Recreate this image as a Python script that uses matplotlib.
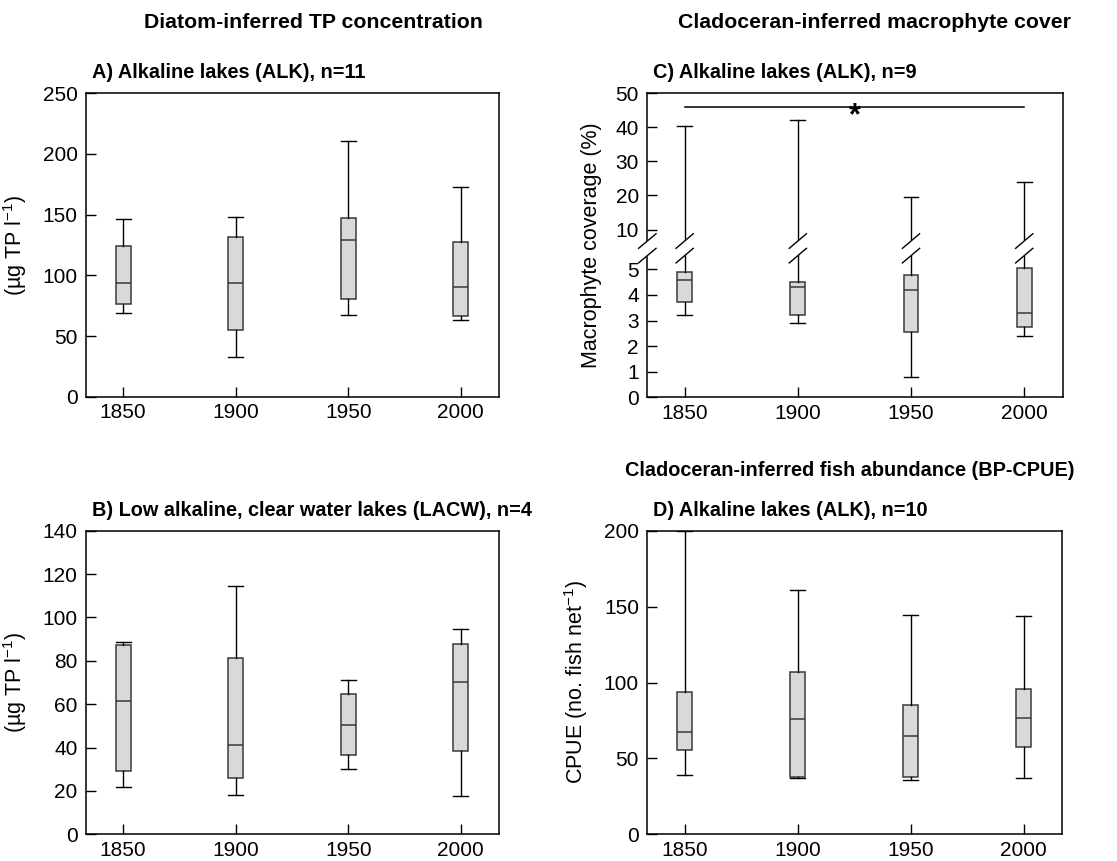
import matplotlib.pyplot as plt
import numpy as np

plt.rcParams['font.family'] = ['Liberation Sans', 'DejaVu Sans']

years = [1850, 1900, 1950, 2000]

# box stats per panel: lower whisker, Q1, median, Q3, upper whisker
a_low = [68.7, 32.5, 67.3, 63.0]
a_q1 = [76.1, 54.7, 80.3, 66.8]
a_med = [93.9, 93.4, 129.1, 90.4]
a_q3 = [123.9, 131.3, 147.2, 127.5]
a_high = [146.4, 147.8, 210.9, 173.0]

b_low = [21.9, 18.3, 30.0, 17.7]
b_q1 = [29.2, 26.0, 36.4, 38.4]
b_med = [61.3, 41.0, 50.3, 70.1]
b_q3 = [87.3, 81.3, 64.6, 87.9]
b_high = [88.5, 114.6, 71.3, 94.8]

c_low = [3.21, 2.89, 0.81, 2.41]
c_q1 = [3.72, 3.22, 2.55, 2.76]
c_med = [4.59, 4.31, 4.20, 3.30]
c_q3 = [4.91, 4.52, 4.78, 5.04]
c_high = [40.5, 42.3, 19.7, 24.1]

d_low = [38.9, 37.1, 36.0, 37.3]
d_q1 = [55.3, 37.9, 37.7, 57.7]
d_med = [67.6, 75.8, 64.6, 76.8]
d_q3 = [93.5, 106.7, 85.4, 95.9]
d_high = [200.0, 160.9, 144.7, 143.8]

W, H = 1117, 861
fig = plt.figure(figsize=(W / 100, H / 100), dpi=100)


def px_axes(l, r, t, b):
    return fig.add_axes([l / W, 1 - b / H, (r - l) / W, (b - t) / H])


def draw_boxes(ax, low, q1, med, q3, high):
    stats = []
    for i in range(len(years)):
        stats.append(dict(whislo=low[i], q1=q1[i], med=med[i], q3=q3[i],
                          whishi=high[i], fliers=[]))
    ax.bxp(stats, positions=years, widths=6.6, patch_artist=True,
           showfliers=False, manage_ticks=False,
           boxprops=dict(facecolor='#d9d9d9', edgecolor='#3a3a3a', linewidth=1.1),
           medianprops=dict(color='#3a3a3a', linewidth=1.1),
           whiskerprops=dict(color='black', linewidth=1.0),
           capprops=dict(color='black', linewidth=1.0),
           capwidths=6.6)


def style(ax, yticks, ylabel):
    ax.set_xlim(1833.5, 2017)
    ax.set_xticks(years)
    ax.set_yticks(yticks)
    ax.tick_params(direction='in', length=7.5, width=1, labelsize=15, pad=6)
    ax.tick_params(axis='x', pad=4.5)
    for s in ax.spines.values():
        s.set_linewidth(1.1)
    ax.set_ylabel(ylabel, fontsize=15.5, labelpad=10)


# A
axA = px_axes(86, 499, 93.3, 396.7)
draw_boxes(axA, a_low, a_q1, a_med, a_q3, a_high)
axA.set_ylim(0, 250)
style(axA, [0, 50, 100, 150, 200, 250], '(µg TP l$^{\\mathregular{-1}}$)')

# B
axB = px_axes(86, 499, 530.7, 834.3)
draw_boxes(axB, b_low, b_q1, b_med, b_q3, b_high)
axB.set_ylim(0, 140)
style(axB, [0, 20, 40, 60, 80, 100, 120, 140], '(µg TP l$^{\\mathregular{-1}}$)')

# C with a broken y axis
sa, sc, sc0 = 76.4, 10.175, 399.25
yb = sc0 / (sa - sc)


def fwd(y):
    y = np.asarray(y, dtype=float)
    return np.where(y < yb, sa * y, sc0 + sc * y)


def inv(z):
    z = np.asarray(z, dtype=float)
    return np.where(z < sa * yb, z / sa, (z - sc0) / sc)


axC = px_axes(647.3, 1062.7, 93.3, 397.3)
axC.set_yscale('function', functions=(fwd, inv))
draw_boxes(axC, c_low, c_q1, c_med, c_q3, c_high)
axC.set_ylim(0, 50)
style(axC, [0, 1, 2, 3, 4, 5, 10, 20, 30, 40, 50], 'Macrophyte coverage (%)')
axC.yaxis.set_minor_locator(plt.NullLocator())
axC.set_yticklabels(['0', '1', '2', '3', '4', '5', '10', '20', '30', '40', '50'])

# break marks
ybrk = 0.49
tr = axC.get_xaxis_transform()
for xpos, trans, dx in [(x, tr, 3.8) for x in years] + [(0.0, axC.transAxes, 0.021)]:
    xs = [xpos - dx, xpos + dx]
    gap = plt.Polygon([[xs[0], ybrk - 0.05], [xs[1], ybrk - 0.002],
                       [xs[1], ybrk + 0.05], [xs[0], ybrk + 0.002]],
                      closed=True, facecolor='white', edgecolor='none',
                      transform=trans, clip_on=False, zorder=5)
    axC.add_patch(gap)
    for off in (-0.024, 0.024):
        axC.plot(xs, [ybrk - 0.024 + off, ybrk + 0.024 + off], color='black',
                 linewidth=1.0, transform=trans, clip_on=False, zorder=6)

axC.plot([years[0], years[-1]], [46.0, 46.0], color='black', linewidth=1.1)
axC.text(1925, 43.2, '*', ha='center', va='center', fontsize=22, fontweight='bold')

# D
axD = px_axes(647.3, 1062.3, 530.7, 834.3)
draw_boxes(axD, d_low, d_q1, d_med, d_q3, d_high)
axD.set_ylim(0, 200)
style(axD, [0, 50, 100, 150, 200], 'CPUE (no. fish net$^{\\mathregular{-1}}$)')


# titles
def ftext(x, y, s, size, ha='center'):
    fig.text(x / W, 1 - y / H, s, ha=ha, va='center', fontsize=size, fontweight='bold')


ftext(313, 23, 'Diatom-inferred TP concentration', 15.3)
ftext(874, 23, 'Cladoceran-inferred macrophyte cover', 15.3)
ftext(850, 471, 'Cladoceran-inferred fish abundance (BP-CPUE)', 14.3)
ftext(92, 72, 'A) Alkaline lakes (ALK), n=11', 14.3, ha='left')
ftext(92, 510, 'B) Low alkaline, clear water lakes (LACW), n=4', 14.3, ha='left')
ftext(653, 72, 'C) Alkaline lakes (ALK), n=9', 14.3, ha='left')
ftext(653, 510, 'D) Alkaline lakes (ALK), n=10', 14.3, ha='left')

fig.savefig('out.png', dpi=100)
